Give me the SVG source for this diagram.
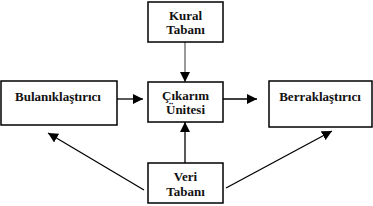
<svg xmlns="http://www.w3.org/2000/svg" width="373" height="206" viewBox="0 0 373 206">
<style>
.box{fill:#fff;stroke:#000;stroke-width:1.5}
.t{font-family:"Liberation Serif","Times New Roman",serif;font-weight:bold;font-size:13px;fill:#111;text-anchor:middle}
.c{stroke:#000;stroke-width:1.3;fill:none}
</style>
<defs>
<marker id="ah" viewBox="0 0 10 10" refX="10" refY="5" markerWidth="10" markerHeight="10" markerUnits="userSpaceOnUse" orient="auto"><path d="M0,0 L10,5 L0,10 Z" fill="#000"/></marker>
</defs>
<rect width="373" height="206" fill="#fff"/>
<g id="connectors">
<line class="c" x1="185" y1="42" x2="185" y2="82" style="stroke:#808080;stroke-width:1.6" marker-end="url(#ah)"/>
<line class="c" x1="117" y1="99" x2="143" y2="99" marker-end="url(#ah)"/>
<line class="c" x1="223" y1="99" x2="257" y2="99" marker-end="url(#ah)"/>
<line class="c" x1="185" y1="163" x2="185" y2="122" marker-end="url(#ah)"/>
<line class="c" x1="144" y1="190" x2="48" y2="133" marker-end="url(#ah)"/>
<line class="c" x1="226" y1="188" x2="332" y2="131" marker-end="url(#ah)"/>
</g>
<g id="kural">
<rect class="box" x="148" y="2" width="75" height="40"/>
<text class="t" x="185.5" y="20">Kural</text>
<text class="t" x="185.5" y="34">Tabanı</text>
</g>
<g id="bulanik">
<rect class="box" x="1" y="81" width="116" height="44"/>
<text class="t" x="58" y="101">Bulanıklaştırıcı</text>
</g>
<g id="cikarim">
<rect class="box" x="148" y="82" width="75" height="40"/>
<text class="t" x="185.5" y="100">Çıkarım</text>
<text class="t" x="185.5" y="114">Ünitesi</text>
</g>
<g id="berrak">
<rect class="box" x="269" y="81" width="103" height="46"/>
<text class="t" x="320" y="101">Berraklaştırıcı</text>
</g>
<g id="veri">
<rect class="box" x="148" y="163" width="75" height="40"/>
<text class="t" x="185.5" y="181">Veri</text>
<text class="t" x="185.5" y="196">Tabanı</text>
</g>
</svg>
